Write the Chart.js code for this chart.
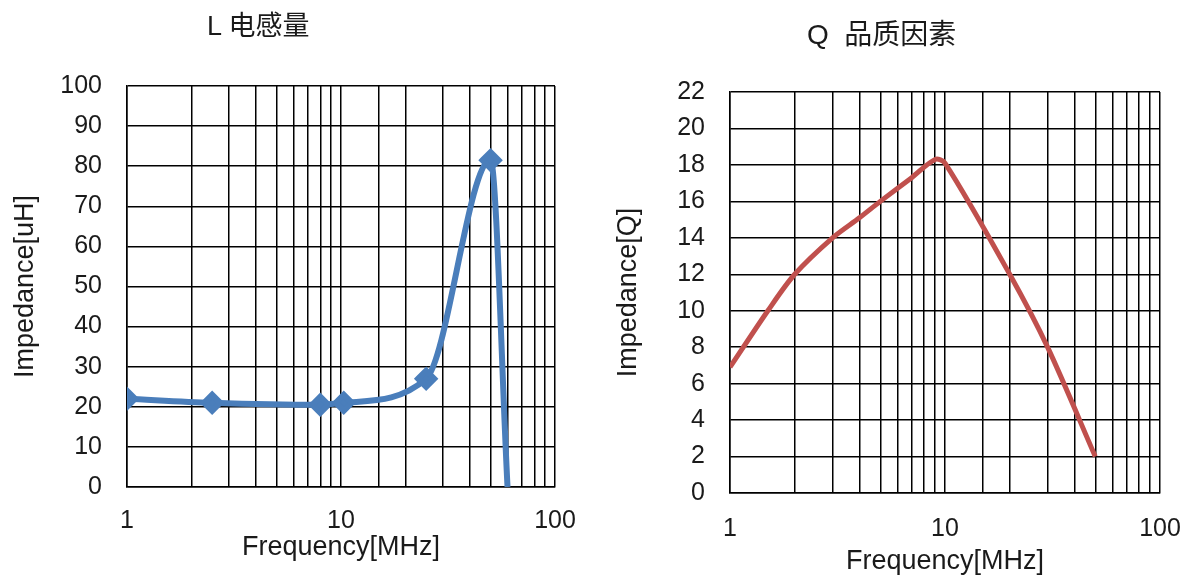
<!DOCTYPE html>
<html>
<head>
<meta charset="utf-8">
<script src="https://cdn.jsdelivr.net/npm/chart.js@4/dist/chart.umd.min.js"></script>
<style>
  html, body { margin: 0; padding: 0; background: #fff; }
  #wrap { position: relative; width: 1184px; height: 579px; overflow: hidden; }
  .box { position: absolute; top: 0; width: 592px; height: 579px; }
  .ttl { position: absolute; font-family: "Liberation Sans", "Noto Sans CJK SC", sans-serif; color: #1a1a1a; white-space: nowrap; line-height: 1; }
</style>
</head>
<body>
<div id="wrap">
  <div class="box" style="left:0"><canvas id="cL" width="592" height="579"></canvas></div>
  <div class="box" style="left:592px"><canvas id="cQ" width="592" height="579"></canvas></div>
  <div class="ttl" id="tL" style="left:207px; top:13px; font-size:27px;">L 电感量</div>
  <div class="ttl" id="tQ" style="left:807px; top:21px; font-size:28px;">Q&nbsp; 品质因素</div>
</div>
<script>
// ---- data ----
const xTickLabels = [1, 10, 100];

const lFreq = [1, 2.5, 8, 10.3, 25, 50, 60];
const lValues = [22, 21, 20.5, 21, 27, 81.5, 0];
const lMarkers = [true, true, true, true, true, true, false];

const qFreq = [1, 1.5, 2, 3, 4, 5, 7, 9, 10, 20, 30, 50];
const qValues = [6.9, 10, 12, 14, 15.1, 16, 17.3, 18.3, 18.1, 12, 8, 2];

const lYTicks = { min: 0, max: 100, step: 10 };
const qYTicks = { min: 0, max: 22, step: 2 };

// ---- helpers ----
const FONT = '"Liberation Sans", Arial, sans-serif';
const TXT = '#1a1a1a';

function buildChart(id, cfg) {
  const pts = cfg.x.map((x, i) => ({ x: x, y: cfg.y[i] }));
  return new Chart(document.getElementById(id), {
    type: 'line',
    data: {
      datasets: [{
        data: pts,
        borderColor: cfg.color,
        backgroundColor: cfg.color,
        borderWidth: cfg.lineWidth,
        tension: cfg.tension,
        cubicInterpolationMode: cfg.interp,
        pointStyle: 'rectRot',
        pointRadius: cfg.radii,
        pointHoverRadius: cfg.radii,
        fill: false
      }]
    },
    options: {
      responsive: false,
      animation: false,
      devicePixelRatio: 1,
      layout: { padding: cfg.pad },
      plugins: { legend: { display: false }, title: { display: false }, tooltip: { enabled: false } },
      scales: {
        x: {
          type: 'logarithmic',
          min: 1, max: 100,
          afterFit: s => { s.height = cfg.xH; s.paddingLeft = 0; s.paddingRight = 0; },
          grid: { color: '#000', lineWidth: 1.5, drawTicks: false },
          border: { display: true, color: '#000', width: 1.5 },
          ticks: {
            autoSkip: false, maxRotation: 0, padding: cfg.xTickPad,
            color: TXT, font: { family: FONT, size: 25 },
            callback: v => (xTickLabels.includes(v) ? String(v) : '')
          },
          title: { display: true, text: 'Frequency[MHz]', color: TXT,
                   font: { family: FONT, size: 27 }, padding: { top: 0, bottom: cfg.xTitlePad } }
        },
        y: {
          min: cfg.yt.min, max: cfg.yt.max,
          afterFit: s => { s.width = cfg.yW; },
          grid: { color: '#000', lineWidth: 1.5, drawTicks: false },
          border: { display: true, color: '#000', width: 1.5 },
          ticks: { stepSize: cfg.yt.step, padding: 25, color: TXT, font: { family: FONT, size: 25 } },
          title: { display: true, text: cfg.yTitle, color: TXT,
                   font: { family: FONT, size: 27 }, padding: { top: cfg.yTitlePad, bottom: 0 } }
        }
      }
    }
  });
}

buildChart('cL', {
  x: lFreq, y: lValues, color: '#4A7EBB', lineWidth: 6, tension: 0.4, interp: 'monotone',
  radii: lMarkers.map(m => (m ? 8 : 0)),
  pad: { left: 0, right: 37, top: 86, bottom: 0 },
  xH: 92, yW: 127, xTickPad: 19, xTitlePad: 15, yTitlePad: 9,
  yt: lYTicks, yTitle: 'Impedance[uH]'
});

buildChart('cQ', {
  x: qFreq, y: qValues, color: '#C0504D', lineWidth: 5, tension: 0.3, interp: 'default',
  radii: 0,
  pad: { left: 0, right: 24, top: 92, bottom: 0 },
  xH: 86, yW: 138, xTickPad: 21, xTitlePad: 1, yTitlePad: 20,
  yt: qYTicks, yTitle: 'Impedance[Q]'
});
</script>
</body>
</html>
